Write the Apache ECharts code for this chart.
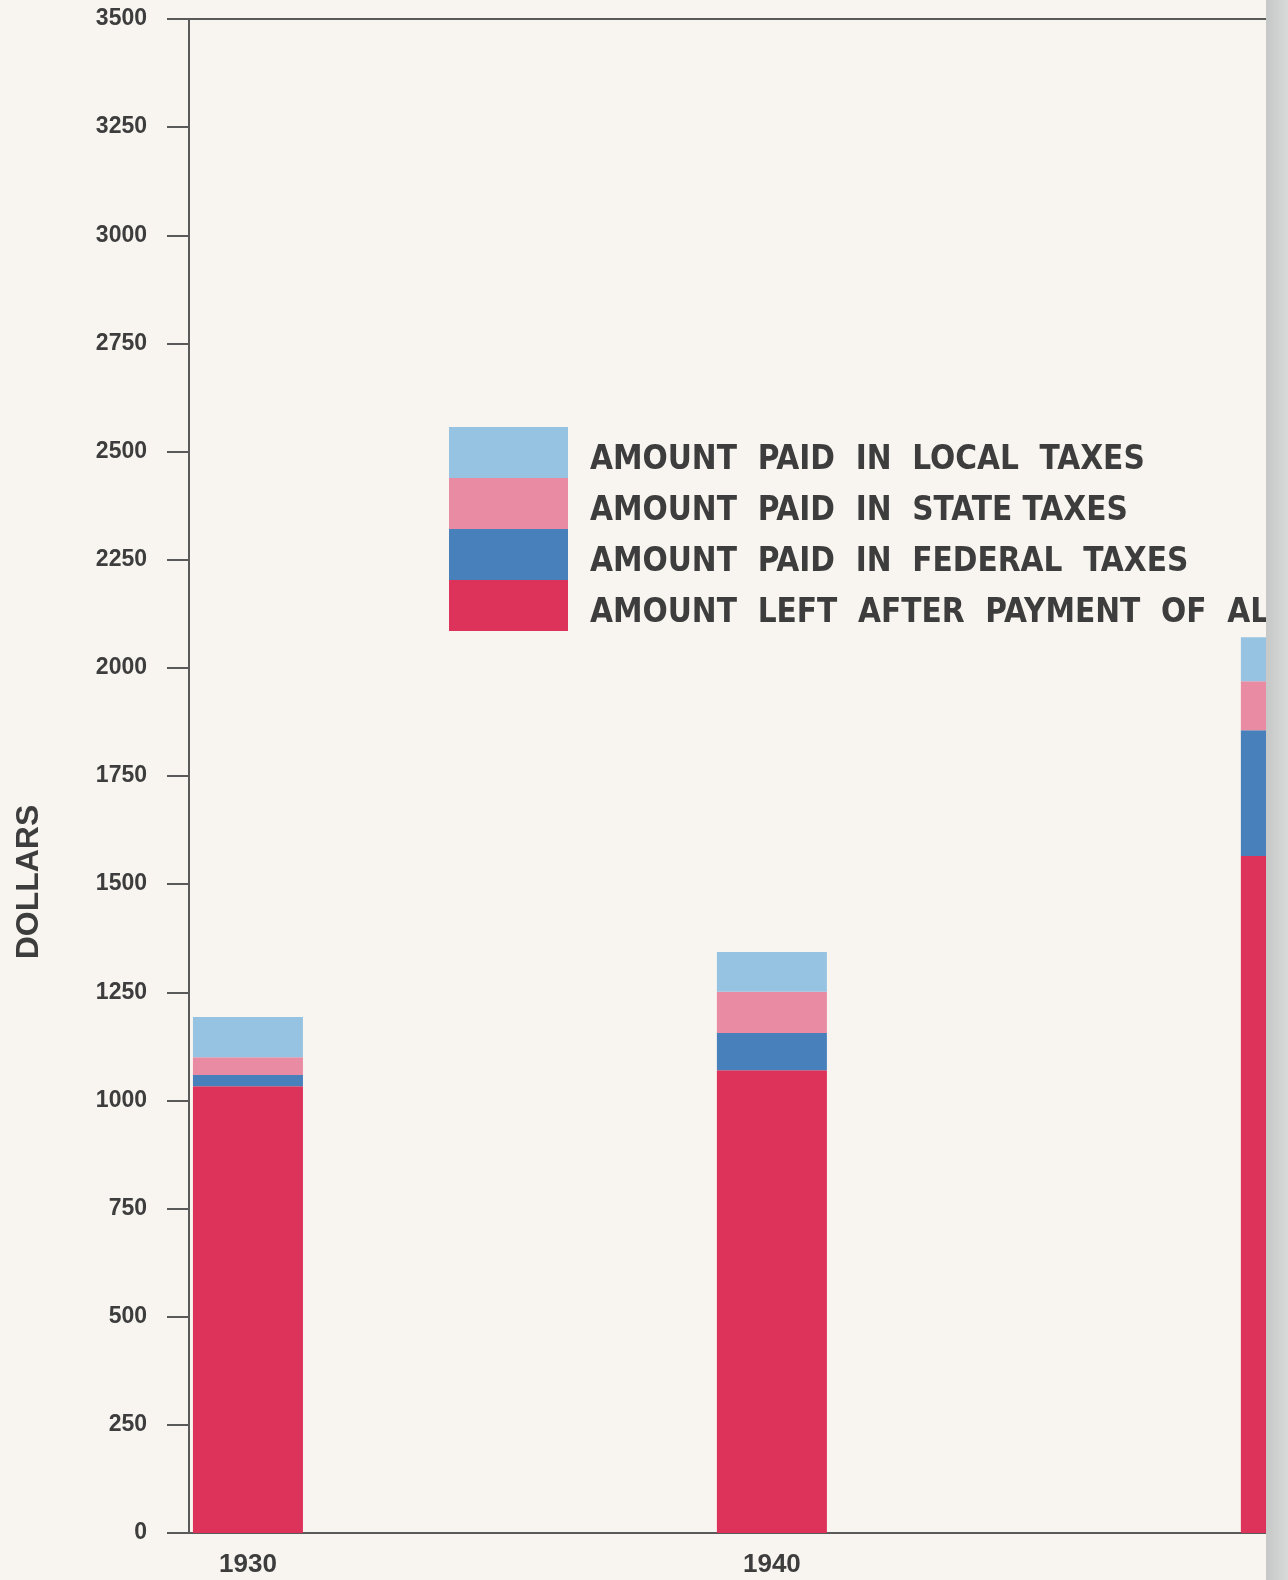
<!DOCTYPE html>
<html>
<head>
<meta charset="utf-8">
<script src="https://cdn.jsdelivr.net/npm/echarts@6/dist/echarts.min.js"></script>
<style>
  html, body { margin: 0; padding: 0; background: #f8f5f0; }
  #main { width: 1288px; height: 1580px; }
</style>
</head>
<body>
<div id="main"></div>
<script>
// years on the x axis, dollar amounts
var years = [1930, 1940, 1950];
var leftAfterTaxes = [1033, 1070, 1565];
var federalTaxes = [26, 86, 291];
var stateTaxes = [41, 95, 113];
var localTaxes = [93, 92, 102];
var yTicks = [0, 3500, 250]; // min, max, step

var names = [
	'AMOUNT  PAID  IN  LOCAL  TAXES',
	'AMOUNT  PAID  IN  STATE TAXES',
	'AMOUNT  PAID  IN  FEDERAL  TAXES',
	'AMOUNT  LEFT  AFTER  PAYMENT  OF  ALL  TAXES'
];

var font = "'Liberation Sans Narrow', 'DejaVu Sans Condensed', 'DejaVu Sans', sans-serif";
var plain = "'Liberation Sans', Arial, sans-serif";
var ink = '#3d3d3d';

// value first so the stack runs along y
function pairs(vals) {
	return years.map(function(y, i) { return [vals[i], y]; });
}

function bar(name, vals, color) {
	return {
		name: name,
		type: 'bar',
		stack: 'total',
		barWidth: 110,
		encode: { x: 1, y: 0 },
		itemStyle: { color: color },
		data: pairs(vals)
	};
}

var myChart = echarts.init(document.getElementById('main'));
var option = {
	backgroundColor: '#f8f5f0',
	animation: false,
	grid: {
		left: 189,
		top: 19,
		bottom: 47,
		right: 0,
		show: true,
		borderColor: '#5a5a5a',
		borderWidth: 2
	},
	legend: {
		left: 449,
		top: 427,
		padding: 0,
		orient: 'vertical',
		icon: 'rect',
		itemWidth: 119,
		itemHeight: 51,
		itemGap: 0,
		selectedMode: false,
		data: [names[0], names[1], names[2], names[3]],
		formatter: function(name) { return '{t|' + name + '}'; },
		textStyle: {
			fontFamily: font,
			fontWeight: 'bold',
			fontSize: 33,
			color: ink,
			rich: {
				t: {
					fontFamily: font,
					fontWeight: 'bold',
					fontSize: 33,
					color: ink,
					padding: [12, 0, -4, 17]
				}
			}
		}
	},
	xAxis: {
		type: 'value',
		min: 1928.875,
		max: 1949.85,
		splitLine: { show: false },
		axisTick: { show: false },
		axisLine: { lineStyle: { color: '#5a5a5a', width: 2 } },
		axisLabel: {
			customValues: years,
			formatter: function(v) { return String(v); },
			margin: 19,
			fontFamily: plain,
			fontWeight: 'bold',
			fontSize: 26,
			color: ink
		}
	},
	yAxis: {
		type: 'value',
		min: yTicks[0],
		max: yTicks[1],
		interval: yTicks[2],
		splitLine: { show: false },
		axisLine: { show: true, lineStyle: { color: '#5a5a5a', width: 2 } },
		axisTick: { show: true, length: 22, lineStyle: { color: '#5a5a5a', width: 2 } },
		axisLabel: {
			margin: 42,
			formatter: function(v) { return String(v); },
			fontFamily: plain,
			fontWeight: 'bold',
			fontSize: 23,
			color: ink
		}
	},
	graphic: [
		{
			type: 'text',
			x: 29,
			y: 882,
			rotation: Math.PI / 2,
			style: {
				text: 'DOLLARS',
				fontFamily: plain,
				fontWeight: 'bold',
				fontSize: 32,
				fill: ink,
				align: 'center',
				verticalAlign: 'middle'
			}
		},
		{
			// edge of the scanned page
			type: 'rect',
			z: 100,
			shape: { x: 1266, y: 0, width: 22, height: 1580 },
			style: {
				fill: new echarts.graphic.LinearGradient(0, 0, 1, 0, [
					{ offset: 0, color: '#c6c8c7' },
					{ offset: 1, color: '#d8dad9' }
				])
			}
		}
	],
	series: [
		bar(names[3], leftAfterTaxes, '#dd3259'),
		bar(names[2], federalTaxes, '#4780ba'),
		bar(names[1], stateTaxes, '#e98ba2'),
		bar(names[0], localTaxes, '#97c3e2')
	]
};
myChart.setOption(option);
</script>
</body>
</html>
